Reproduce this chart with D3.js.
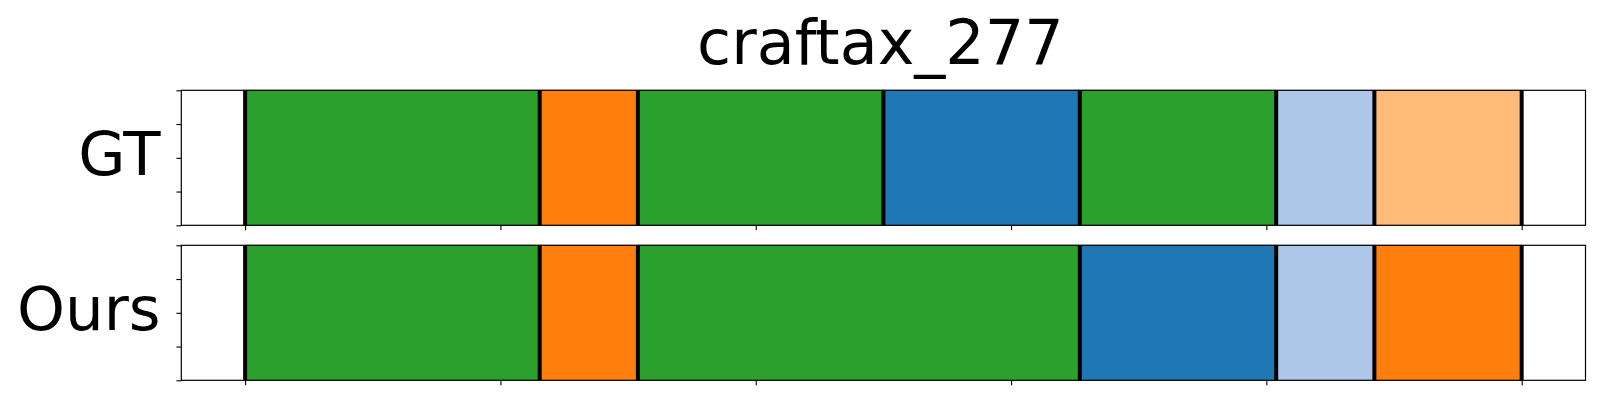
<!DOCTYPE html>
<html>
<head>
<meta charset="utf-8">
<script src="https://cdn.jsdelivr.net/npm/d3@7"></script>
<style>
  html, body { margin: 0; padding: 0; background: #fff; }
  svg { display: block; }
  text { font-family: "DejaVu Sans", sans-serif; fill: #000; }
</style>
</head>
<body>
<svg id="chart" width="1600" height="400"></svg>
<script>
// ---- data ----
const title = "craftax_277";
const rowLabels = ["GT", "Ours"];
const totalSteps = 26;
// segment boundaries (in steps) and class ids for each row
const gtBounds   = [0, 6, 8, 13, 17, 21, 23, 26];
const gtClasses  = [4, 2, 4, 0, 4, 1, 3];
const oursBounds  = [0, 6, 8, 17, 21, 23, 26];
const oursClasses = [4, 2, 4, 0, 1, 2];
const classColors = ["#1f77b4", "#aec7e8", "#ff7f0e", "#ffbb78", "#2ca02c"];
const xTicks = [0, 0.2, 0.4, 0.6, 0.8, 1.0];
const yTicks = [0, 0.25, 0.5, 0.75, 1.0];

const rowsData = [
  { label: rowLabels[0], bounds: gtBounds, classes: gtClasses },
  { label: rowLabels[1], bounds: oursBounds, classes: oursClasses }
];

// ---- layout ----
const svg = d3.select("#chart");
const left = 181.3, right = 1585.5;
const axTops = [90.3, 245.3];
const axH = 135;

const x = d3.scaleLinear().domain([-0.05, 1.05]).range([left, right]);
const color = d3.scaleOrdinal().domain(d3.range(classColors.length)).range(classColors);

svg.append("text")
  .attr("x", (left + right) / 2 - 3)
  .attr("y", 63.5)
  .attr("text-anchor", "middle")
  .style("font-size", "62px")
  .text(title);

rowsData.forEach((row, i) => {
  const top = axTops[i];
  const y = d3.scaleLinear().domain([0, 1]).range([top + axH, top]);
  const g = svg.append("g");

  const segs = row.classes.map((c, k) => ({
    c, s: row.bounds[k] / totalSteps, e: row.bounds[k + 1] / totalSteps
  }));

  g.selectAll("rect.seg").data(segs).enter().append("rect")
    .attr("class", "seg")
    .attr("x", d => x(d.s))
    .attr("width", d => x(d.e) - x(d.s))
    .attr("y", y(1))
    .attr("height", y(0) - y(1))
    .attr("fill", d => color(d.c))
    .attr("stroke", d => d3.color(color(d.c)).darker(0.35))
    .attr("stroke-width", 1);

  g.selectAll("line.bd").data(row.bounds).enter().append("line")
    .attr("class", "bd")
    .attr("x1", d => x(d / totalSteps)).attr("x2", d => x(d / totalSteps))
    .attr("y1", y(1)).attr("y2", y(0))
    .attr("stroke", "#000").attr("stroke-width", 4);

  // axes
  const xAxis = d3.axisBottom(x).tickValues(xTicks).tickFormat("").tickSize(4.9).tickSizeOuter(0);
  const yAxis = d3.axisLeft(y).tickValues(yTicks).tickFormat("").tickSize(4.9).tickSizeOuter(0);
  const gx = g.append("g").attr("transform", `translate(0,${top + axH})`).call(xAxis);
  const gy = g.append("g").attr("transform", `translate(${left},0)`).call(yAxis);
  [gx, gy].forEach(a => {
    a.select(".domain").remove();
    a.selectAll(".tick line").attr("stroke", "#000").attr("stroke-width", 1.1);
  });

  g.append("rect")
    .attr("x", left).attr("y", top)
    .attr("width", right - left).attr("height", axH)
    .attr("fill", "none").attr("stroke", "#000").attr("stroke-width", 1.2);

  svg.append("text")
    .attr("x", 160.5)
    .attr("y", top + axH / 2 + 17)
    .attr("text-anchor", "end")
    .style("font-size", "61px")
    .text(row.label);
});
</script>
</body>
</html>
